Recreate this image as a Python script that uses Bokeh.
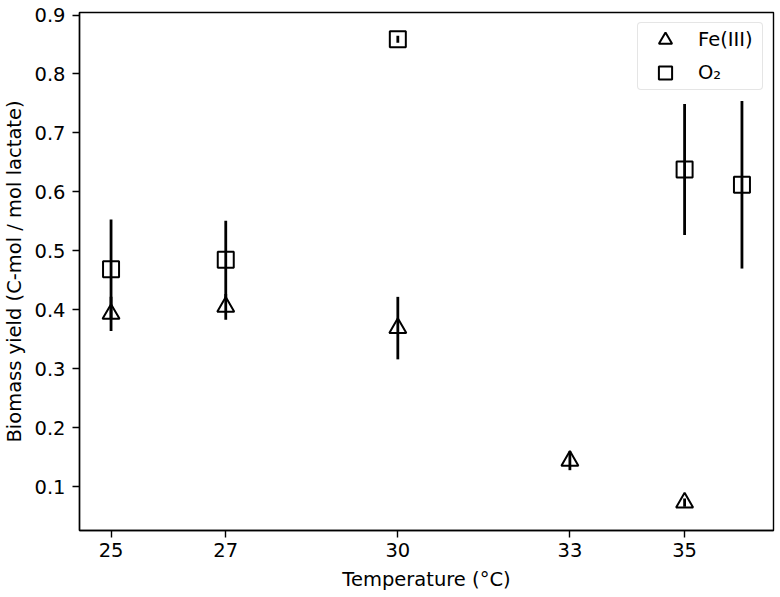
from bokeh.plotting import figure
from bokeh.models import Range1d, FixedTicker, ColumnDataSource, Legend, LegendItem
from bokeh.embed import file_html
from bokeh.resources import INLINE

# Fe(III) series
temps_fe = [25, 27, 30, 33, 35]
yield_fe = [0.393, 0.405, 0.369, 0.144, 0.073]
err_fe = [0.029, 0.022, 0.053, 0.016, 0.007]

# O2 series
temps_o2 = [25, 27, 30, 35, 36]
yield_o2 = [0.469, 0.485, 0.859, 0.638, 0.612]
err_o2 = [0.084, 0.066, 0.006, 0.111, 0.142]

x_ticks = [25, 27, 30, 33, 35]
y_ticks = [0.1, 0.2, 0.3, 0.4, 0.5, 0.6, 0.7, 0.8, 0.9]

FONT = "DejaVu Sans"
FS = "19.5px"

src_fe = ColumnDataSource(dict(
    x=temps_fe, y=yield_fe,
    lo=[v - e for v, e in zip(yield_fe, err_fe)],
    hi=[v + e for v, e in zip(yield_fe, err_fe)],
))
src_o2 = ColumnDataSource(dict(
    x=temps_o2, y=yield_o2,
    lo=[v - e for v, e in zip(yield_o2, err_o2)],
    hi=[v + e for v, e in zip(yield_o2, err_o2)],
))

p = figure(width=780, height=597, output_backend="svg", toolbar_location=None,
           x_range=Range1d(24.45, 36.55), y_range=Range1d(0.0257, 0.9043),
           min_border_left=78, min_border_right=7, min_border_top=12, min_border_bottom=67)

p.xgrid.visible = False
p.ygrid.visible = False
p.background_fill_color = "white"
p.border_fill_color = "white"
p.outline_line_color = "black"
p.outline_line_width = 1.4
p.outline_line_alpha = 1.0

p.segment(x0="x", y0="lo", x1="x", y1="hi", source=src_fe, line_color="black", line_width=2.8)
p.segment(x0="x", y0="lo", x1="x", y1="hi", source=src_o2, line_color="black", line_width=2.8)

r_fe = p.scatter(x="x", y="y", source=src_fe, marker="triangle", size=17,
                 line_color="black", line_width=2, fill_alpha=0)
r_o2 = p.scatter(x="x", y="y", source=src_o2, marker="square", size=16,
                 line_color="black", line_width=2, fill_alpha=0)

p.xaxis.ticker = FixedTicker(ticks=x_ticks)
p.yaxis.ticker = FixedTicker(ticks=y_ticks)
p.xaxis.axis_label = "Temperature (°C)"
p.yaxis.axis_label = "Biomass yield (C-mol / mol lactate)"

for ax in (p.xaxis, p.yaxis):
    ax.axis_label_text_font = FONT
    ax.axis_label_text_font_size = FS
    ax.axis_label_text_font_style = "normal"
    ax.axis_label_text_color = "black"
    ax.major_label_text_font = FONT
    ax.major_label_text_font_size = FS
    ax.major_label_text_color = "black"
    ax.axis_line_color = "black"
    ax.axis_line_width = 1.4
    ax.major_tick_line_color = "black"
    ax.major_tick_line_width = 1.4
    ax.major_tick_in = 0
    ax.major_tick_out = 7
    ax.minor_tick_line_color = None

p.xaxis.major_label_standoff = 5
p.xaxis.axis_label_standoff = 8
p.yaxis.major_label_standoff = 7
p.yaxis.axis_label_standoff = 5

legend = Legend(
    items=[LegendItem(label="Fe(III)", renderers=[r_fe]),
           LegendItem(label="O₂", renderers=[r_o2])],
    location="top_right", margin=10,
    glyph_width=54, glyph_height=33, spacing=0, padding=0,
    label_standoff=6, label_width=64,
    label_text_font=FONT, label_text_font_size=FS, label_text_color="black",
    border_line_color="#cccccc", border_line_width=1.3,
    background_fill_color="white", background_fill_alpha=0.8,
    border_radius=4,
)
p.add_layout(legend)

open("out.html", "w").write(file_html(p, INLINE))
